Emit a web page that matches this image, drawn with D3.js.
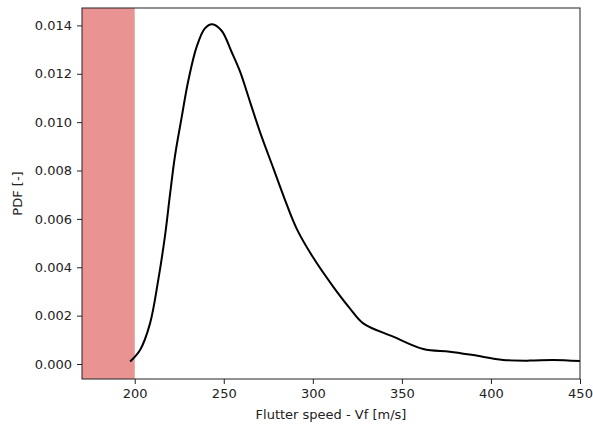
<!DOCTYPE html>
<html>
<head>
<meta charset="utf-8">
<script src="https://cdn.jsdelivr.net/npm/d3@7"></script>
<style>
  html, body { margin: 0; padding: 0; background: #fff; }
  svg { display: block; font-family: "DejaVu Sans", sans-serif; }
</style>
</head>
<body>
<svg id="chart" width="593" height="427"></svg>
<script>
// ---- data ----
const speed = [197.4, 203, 208.6, 213.2, 217, 219.8, 222.6, 226.4, 230.1, 234.8, 239.4, 243.5, 248.8, 254.4, 259.1, 264.7, 270.3, 277.8, 284.3, 290.9, 300.2, 311.4, 320.8, 328.3, 345.1, 362, 376.9, 390, 406.8, 421.8, 434.9, 450];
const pdf   = [0.0001, 0.00058, 0.00168, 0.00347, 0.0053, 0.0070, 0.0086, 0.01022, 0.01172, 0.01312, 0.01388, 0.01405, 0.01378, 0.0129, 0.0121, 0.01085, 0.0096, 0.0081, 0.0068, 0.0056, 0.0044, 0.0032, 0.0023, 0.00168, 0.00113, 0.00062, 0.00051, 0.00037, 0.00017, 0.00014, 0.00017, 0.00012];
const xTicks = [200, 250, 300, 350, 400, 450];
const yTicks = [0.000, 0.002, 0.004, 0.006, 0.008, 0.010, 0.012, 0.014];
const forbiddenLimit = 200;
const xLabel = "Flutter speed - Vf [m/s]";
const yLabel = "PDF [-]";

// ---- layout ----
const svg = d3.select("#chart");
const pL = 82, pR = 580, pT = 8, pB = 379;
const x = d3.scaleLinear().domain([170.4, 450]).range([pL, pR]);
const y = d3.scaleLinear().domain([-0.00062, 0.01472]).range([pB, pT]);

// forbidden region span
svg.append("rect")
  .attr("x", x(x.domain()[0]))
  .attr("y", pT)
  .attr("width", x(forbiddenLimit) - x(x.domain()[0]))
  .attr("height", pB - pT)
  .attr("fill", "#d62728")
  .attr("fill-opacity", 0.5);

// curve
const pts = speed.map((s, i) => [s, pdf[i]]);
svg.append("path")
  .datum(pts)
  .attr("fill", "none")
  .attr("stroke", "#000")
  .attr("stroke-width", 2)
  .attr("d", d3.line().x(d => x(d[0])).y(d => y(d[1])).curve(d3.curveCatmullRom.alpha(0.5)));

// axes
const fmt = d3.format(".3f");
const xAxis = svg.append("g").attr("transform", `translate(0,${pB})`)
  .call(d3.axisBottom(x).tickValues(xTicks).tickSize(5).tickPadding(5).tickFormat(d3.format("d")));
const yAxis = svg.append("g").attr("transform", `translate(${pL},0)`)
  .call(d3.axisLeft(y).tickValues(yTicks).tickSize(5).tickPadding(5).tickFormat(fmt));
[xAxis, yAxis].forEach(g => {
  g.select(".domain").remove();
  g.selectAll("line").attr("stroke", "#222").attr("stroke-width", 1);
  g.selectAll("text").attr("fill", "#222").style("font-size", "13px").style("font-family", "DejaVu Sans");
});

// frame
svg.append("rect")
  .attr("x", pL).attr("y", pT)
  .attr("width", pR - pL).attr("height", pB - pT)
  .attr("fill", "none").attr("stroke", "#222").attr("stroke-width", 1);

// labels
svg.append("text")
  .attr("x", (pL + pR) / 2).attr("y", 419)
  .attr("text-anchor", "middle")
  .attr("fill", "#222")
  .style("font-size", "13px")
  .text(xLabel);
svg.append("text")
  .attr("transform", `translate(22,${(pT + pB) / 2}) rotate(-90)`)
  .attr("text-anchor", "middle")
  .attr("fill", "#222")
  .style("font-size", "13px")
  .text(yLabel);
</script>
</body>
</html>
